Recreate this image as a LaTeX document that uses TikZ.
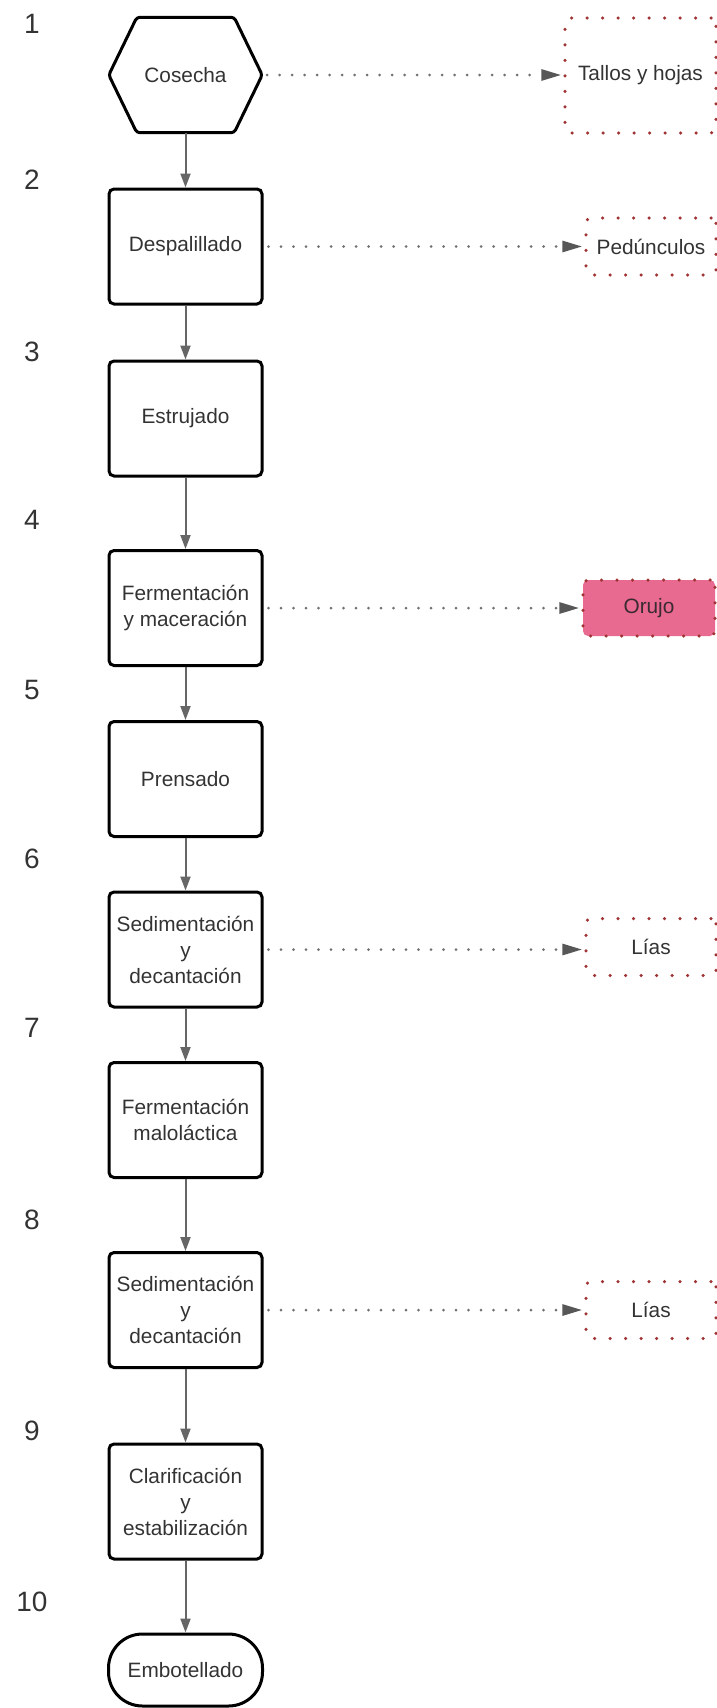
\documentclass[tikz,border=0pt]{standalone}
\usepackage{fontspec}
\setmainfont{Liberation Sans}
\usetikzlibrary{arrows.meta}
\definecolor{txt}{HTML}{333333}
\definecolor{arr}{HTML}{666666}
\definecolor{arrdot}{HTML}{727272}
\definecolor{dotred}{HTML}{A03434}
\definecolor{orujo}{HTML}{E86A91}
\definecolor{orujotxt}{HTML}{3B2A31}

\begin{document}
\begin{tikzpicture}[x=1pt,y=-1pt,
    paso/.style={draw=black, line width=3pt, rounded corners=5pt, minimum width=153pt, minimum height=115pt, inner sep=0pt, align=center, text=txt, font=\fontsize{20.8}{26}\selectfont},
    hexa/.style={minimum width=153pt, minimum height=115pt, inner sep=0pt, text=txt, font=\fontsize{20.8}{26}\selectfont},
    fin/.style={draw=black, line width=3pt, rounded corners=34pt, minimum width=154pt, minimum height=72pt, inner sep=0pt, text=txt, font=\fontsize{20.8}{26}\selectfont},
    residuo/.style={draw=dotred, line width=3.5pt, line cap=round, dash pattern=on 0pt off 15.5pt, rounded corners=5pt, inner sep=0pt, align=center, text=txt, font=\fontsize{20.8}{26}\selectfont},
    num/.style={text=txt, font=\fontsize{28}{30}\selectfont},
    flujo/.style={draw=arr, line width=2pt, -{Triangle[length=14pt,width=10pt]}},
    salida/.style={draw=arrdot, line width=3pt, line cap=round, dash pattern=on 0pt off 12.5pt, shorten <=5pt, shorten >=2pt, -{Triangle[length=20pt,width=11pt,color=arr!85!black]}}]
        \useasboundingbox (0,0) rectangle (717,1708);

        \node[num] (N1) at (32,24) {1};
        \node[num] (N2) at (32,180) {2};
        \node[num] (N3) at (32,352) {3};
        \node[num] (N4) at (32,520) {4};
        \node[num] (N5) at (32,690) {5};
        \node[num] (N6) at (32,859) {6};
        \node[num] (N7) at (32,1028) {7};
        \node[num] (N8) at (32,1220) {8};
        \node[num] (N9) at (32,1431) {9};
        \node[num] (N10) at (32,1602) {10};

        \node[hexa] (A) at (185.5,75) {Cosecha};
        \draw[line width=3pt, rounded corners=3pt] (A.west) -- ([xshift=28pt]A.north west) -- ([xshift=-28pt]A.north east) -- (A.east) -- ([xshift=-28pt]A.south east) -- ([xshift=28pt]A.south west) -- cycle;
        \node[paso] (B) at (185.5,246.5) {Despalillado};
        \node[paso] (C) at (185.5,418.5) {Estrujado};
        \node[paso] (D) at (185.5,608) {Fermentación\\y maceración};
        \node[paso] (E) at (185.5,779) {Prensado};
        \node[paso] (F) at (185.5,949.5) {Sedimentación\\y\\decantación};
        \node[paso] (G) at (185.5,1120) {Fermentación\\maloláctica};
        \node[paso] (H) at (185.5,1310) {Sedimentación\\y\\decantación};
        \node[paso] (I) at (185.5,1501.5) {Clarificación\\y\\estabilización};
        \node[fin] (J) at (185.5,1670) {Embotellado};
        \draw[flujo] (A) -- (B);
        \draw[flujo] (B) -- (C);
        \draw[flujo] (C) -- (D);
        \draw[flujo] (D) -- (E);
        \draw[flujo] (E) -- (F);
        \draw[flujo] (F) -- (G);
        \draw[flujo] (G) -- (H);
        \draw[flujo] (H) -- (I);
        \draw[flujo] (I) -- (J);

        \node[residuo, minimum width=151pt, minimum height=115pt] (K) at (640.5,75.5) {Tallos y hojas};
        \node[residuo, minimum width=130pt, minimum height=57pt] (L) at (651,246.5) {Pedúnculos};
        \node[residuo, fill=orujo, text=orujotxt, minimum width=132pt, minimum height=56pt] (M) at (649,608) {Orujo};
        \node[residuo, minimum width=130pt, minimum height=57pt] (O) at (651,947) {Lías};
        \node[residuo, minimum width=130pt, minimum height=57pt] (P) at (651,1310) {Lías};
        \draw[salida] (A.east) -- (K.west |- A.east);
        \draw[salida] (B.east) -- (L.west |- B.east);
        \draw[salida] (D.east) -- (M.west |- D.east);
        \draw[salida] (F.east) -- (O.west |- F.east);
        \draw[salida] (H.east) -- (P.west |- H.east);
    \end{tikzpicture}
\end{document}
